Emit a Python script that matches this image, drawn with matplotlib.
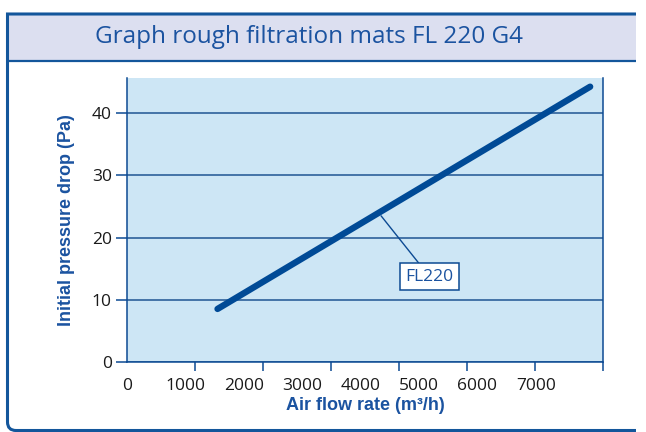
import matplotlib
matplotlib.use('Agg')
import numpy as np
import matplotlib.pyplot as plt
from matplotlib.path import Path
from matplotlib.patches import Rectangle, PathPatch

# data
flow = [1550, 7930]          # air flow rate (m3/h)
dp = [8.5, 44.3]             # initial pressure drop (Pa)
x_labels = [0, 1000, 2000, 3000, 4000, 5000, 6000, 7000]
y_labels = [0, 10, 20, 30, 40]
series_name = 'FL220'
note_at = (4350, 23.5)       # where the label points on the line
note_text_at = (5180, 13.7)

blue = '#0c4a93'
text_blue = '#1b53a0'
frame_blue = '#13569b'
W, H = 646, 432
frame_end = 636              # frame is open on the right

fig = plt.figure(figsize=(W / 100, H / 100), dpi=100)

def fx(px):
    return px / W

def fy(py):
    return 1 - py / H

# title band and outer frame
fig.add_artist(Rectangle((fx(7.5), fy(61)), fx(frame_end) - fx(7.5), fy(14) - fy(61),
                         transform=fig.transFigure, facecolor='#dcdff0', edgecolor='none'))
verts = [(fx(frame_end), fy(14)), (fx(7.5), fy(14)), (fx(7.5), fy(422)), (fx(7.5), fy(430.5)),
         (fx(16), fy(430.5)), (fx(frame_end), fy(430.5))]
codes = [Path.MOVETO, Path.LINETO, Path.LINETO, Path.CURVE3, Path.CURVE3, Path.LINETO]
fig.add_artist(PathPatch(Path(verts, codes), transform=fig.transFigure, capstyle='butt',
                         facecolor='none', edgecolor=frame_blue, lw=2.2))
fig.add_artist(plt.Line2D([fx(7.5), fx(frame_end)], [fy(61), fy(61)], transform=fig.transFigure,
                          color=frame_blue, lw=1.6, solid_capstyle='butt'))
fig.text(fx(309), fy(37), 'Graph rough filtration mats FL 220 G4', family='Open Sans',
         fontsize=17.5, color=text_blue, ha='center', va='center')

ax = fig.add_axes([fx(127), fy(361.7), fx(603) - fx(127), fy(78) - fy(361.7)])
ax.set_facecolor('#cde6f5')
ax.set_xlim(0, 8150)
ax.set_ylim(0, 45.7)

ax.plot(flow, dp, color='#004a96', lw=4.6, solid_capstyle='round', zorder=3)

ax.set_yticks(y_labels)
ax.set_yticklabels([str(v) for v in y_labels])
ax.yaxis.grid(True, color='#1f5592', lw=1.1)
ax.set_axisbelow(True)

# label ticks and tick marks don't line up in the original
ax.set_xticks(x_labels)
ax.set_xticklabels([str(v) for v in x_labels])
ax.set_xticks(np.linspace(0, 8150, 8), minor=True)
ax.tick_params(axis='x', which='major', length=0, pad=12)
ax.tick_params(axis='x', which='minor', length=6.5, width=1.1, color=blue)
ax.tick_params(axis='y', length=8, width=1.1, color=blue, pad=3)
for lab in ax.get_xticklabels() + ax.get_yticklabels():
    lab.set_family('Open Sans')
    lab.set_fontsize(12.5)
    lab.set_color('#1a1a1a')

ax.spines['top'].set_visible(False)
for s in ['left', 'bottom', 'right']:
    ax.spines[s].set_color(blue)
    ax.spines[s].set_linewidth(1.1)

ax.annotate(series_name, xy=note_at, xytext=note_text_at, ha='center', va='center',
            family='Open Sans', fontsize=12.5, color=text_blue,
            bbox=dict(boxstyle='square,pad=0.3', fc='white', ec=blue, lw=1.1),
            arrowprops=dict(arrowstyle='-', color=blue, lw=1.0, shrinkA=0, shrinkB=0))

lab_font = 'Liberation Sans'
ax.set_xlabel('Air flow rate (m³/h)', family=lab_font, weight='bold', fontsize=13,
              color=text_blue, labelpad=2)
ax.set_ylabel('Initial pressure drop (Pa)', family=lab_font, weight='bold', fontsize=13,
              color=text_blue, labelpad=12)

fig.savefig('out.png', dpi=100)
